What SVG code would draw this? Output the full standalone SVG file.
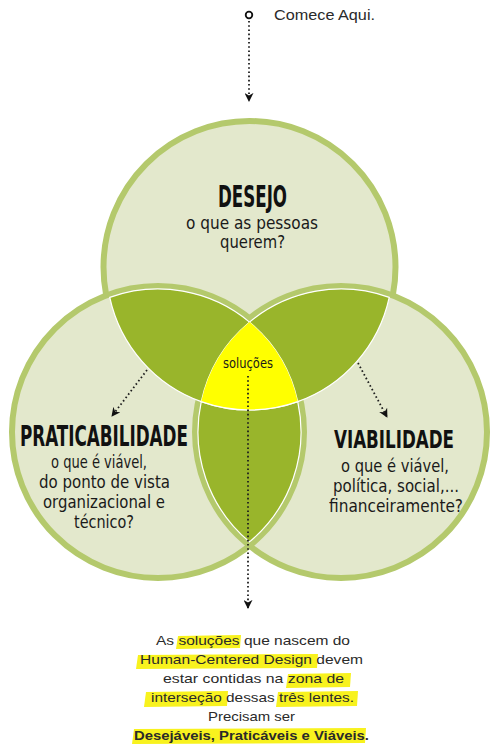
<svg xmlns="http://www.w3.org/2000/svg" width="496" height="753" viewBox="0 0 496 753">
<style>
.fillc{fill:#e3e8cc;stroke:none}
.ring{fill:none;stroke:#b4c96c;stroke-width:6}
.lens{fill:#99b52b;stroke:#ffffff;stroke-width:1.2}
.dot{fill:none;stroke:#1e1e1e;stroke-width:1.8;stroke-dasharray:1.6 2.6}
.head{font-family:"Liberation Sans Narrow","DejaVu Sans Condensed","Liberation Sans",sans-serif;font-weight:bold;fill:#111}
.sub{font-family:"Liberation Sans Narrow","DejaVu Sans Condensed","Liberation Sans",sans-serif;fill:#1a1a1a}
.para{font-family:"Liberation Sans",Arial,sans-serif;font-size:13px;fill:#2a2a2a}
.hl{fill:#f8f21e}
</style>
<defs>
<marker id="ah" viewBox="0 0 10 10" refX="9" refY="5" markerWidth="9" markerHeight="9" markerUnits="userSpaceOnUse" orient="auto">
<path d="M0,0 L10,5 L0,10 L3,5 Z" fill="#111"/>
</marker>
</defs>

<g id="circle-desejo">
<circle class="fillc" cx="249.5" cy="267" r="146"/>
<circle class="ring" cx="249.5" cy="267" r="146"/>
</g>
<g id="circle-praticabilidade">
<circle class="fillc" cx="158" cy="432" r="146"/>
</g>
<g id="circle-viabilidade">
<circle class="fillc" cx="341" cy="432" r="146"/>
</g>
<g id="rings">
<circle class="ring" cx="158" cy="432" r="146"/>
<circle class="ring" cx="341" cy="432" r="146"/>
</g>
<g id="intersections">
<path class="lens" d="M109.76,297.38 A143,143 0 0 1 249.5,322.11 A143,143 0 0 0 201.26,401.62 A143,143 0 0 1 109.76,297.38 Z"/>
<path class="lens" d="M389.24,297.38 A143,143 0 0 0 249.5,322.11 A143,143 0 0 1 297.74,401.62 A143,143 0 0 0 389.24,297.38 Z"/>
<path class="lens" d="M201.26,401.62 A143,143 0 0 0 249.5,541.89 A143,143 0 0 0 297.74,401.62 A143,143 0 0 1 201.26,401.62 Z"/>
</g>
<g id="solucoes">
<path d="M249.5,322.11 A143,143 0 0 1 297.74,401.62 A143,143 0 0 1 201.26,401.62 A143,143 0 0 1 249.5,322.11 Z" fill="#ffff00"/>
<path d="M297.74,401.62 A143,143 0 0 1 201.26,401.62" fill="none" stroke="#fff" stroke-width="1.2"/>
<text class="sub" x="223" y="368" font-size="14" textLength="50" lengthAdjust="spacingAndGlyphs">soluções</text>
</g>

<g id="connectors">
<circle cx="249" cy="15" r="3.3" fill="#fff" stroke="#111" stroke-width="1.8"/>
<path class="dot" d="M249,21 L249,101" marker-end="url(#ah)"/>
<path class="dot" d="M248,376 L248,608" marker-end="url(#ah)"/>
<path class="dot" d="M147,370 L112,416" marker-end="url(#ah)"/>
<path class="dot" d="M358,363 L387,417" marker-end="url(#ah)"/>
</g>

<g id="start">
<text class="para" x="274" y="20" style="font-size:15px" textLength="101" lengthAdjust="spacingAndGlyphs">Comece Aqui.</text>
</g>

<g id="label-desejo">
<text class="head" x="218" y="207" font-size="30" textLength="69" lengthAdjust="spacingAndGlyphs">DESEJO</text>
<text class="sub" x="186" y="229" font-size="17" textLength="132" lengthAdjust="spacingAndGlyphs">o que as pessoas</text>
<text class="sub" x="220" y="248" font-size="17" textLength="65" lengthAdjust="spacingAndGlyphs">querem?</text>
</g>
<g id="label-praticabilidade">
<text class="head" x="20" y="446" font-size="28" textLength="168" lengthAdjust="spacingAndGlyphs">PRATICABILIDADE</text>
<text class="sub" x="51" y="468" font-size="17" textLength="96" lengthAdjust="spacingAndGlyphs">o que é viável,</text>
<text class="sub" x="39" y="488" font-size="17" textLength="131" lengthAdjust="spacingAndGlyphs">do ponto de vista</text>
<text class="sub" x="43" y="508" font-size="17" textLength="122" lengthAdjust="spacingAndGlyphs">organizacional e</text>
<text class="sub" x="74" y="528" font-size="17" textLength="60" lengthAdjust="spacingAndGlyphs">técnico?</text>
</g>
<g id="label-viabilidade">
<text class="head" x="334" y="448" font-size="25" textLength="120" lengthAdjust="spacingAndGlyphs">VIABILIDADE</text>
<text class="sub" x="341" y="472" font-size="17" textLength="108" lengthAdjust="spacingAndGlyphs">o que é viável,</text>
<text class="sub" x="333" y="492" font-size="17" textLength="126" lengthAdjust="spacingAndGlyphs">política, social,...</text>
<text class="sub" x="329" y="512" font-size="17" textLength="134" lengthAdjust="spacingAndGlyphs">financeiramente?</text>
</g>

<g id="conclusion">
<polygon class="hl" points="178,636 241,635 240,648 176,649"/>
<polygon class="hl" points="138,655 318,654 317,668 136,669"/>
<polygon class="hl" points="288,674 351,673 350,687 286,688"/>
<polygon class="hl" points="146,692 228,691 227,706 144,707"/>
<polygon class="hl" points="278,692 358,691 357,706 276,707"/>
<polygon class="hl" points="134,729 366,728 365,743 132,744"/>
<text class="para" x="156" y="645" textLength="194" lengthAdjust="spacingAndGlyphs">As soluções que nascem do</text>
<text class="para" x="140" y="664" textLength="223" lengthAdjust="spacingAndGlyphs">Human-Centered Design devem</text>
<text class="para" x="163" y="683" textLength="181" lengthAdjust="spacingAndGlyphs">estar contidas na zona de</text>
<text class="para" x="151" y="702" textLength="203" lengthAdjust="spacingAndGlyphs">interseção dessas três lentes.</text>
<text class="para" x="208" y="721" textLength="87" lengthAdjust="spacingAndGlyphs">Precisam ser</text>
<text class="para" x="134" y="740" font-weight="bold" textLength="235" lengthAdjust="spacingAndGlyphs">Desejáveis, Praticáveis e Viáveis.</text>
</g>
</svg>
